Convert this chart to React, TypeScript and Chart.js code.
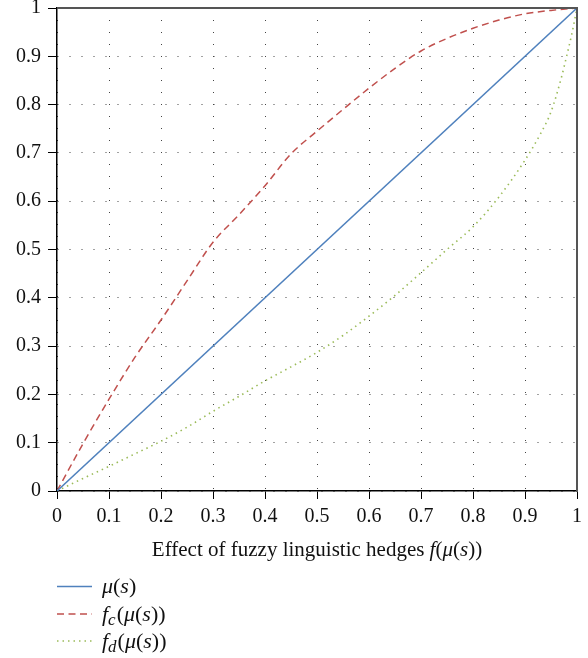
import React, { useEffect, useRef } from "react";
import { Chart, registerables } from "chart.js";

Chart.register(...registerables);

// ---- data ----
const muX = [0, 1];
const muY = [0, 1];

const fcX = [0, 0.05, 0.1, 0.15, 0.2, 0.25, 0.3, 0.35, 0.4, 0.45, 0.5, 0.55, 0.6, 0.65, 0.7, 0.75, 0.8, 0.85, 0.9, 0.95, 1];
const fcY = [0, 0.098, 0.19, 0.277, 0.354, 0.435, 0.515, 0.572, 0.632, 0.698, 0.745, 0.79, 0.834, 0.875, 0.911, 0.937, 0.958, 0.975, 0.988, 0.995, 1];

const fdX = [0, 0.05, 0.1, 0.15, 0.2, 0.25, 0.3, 0.35, 0.4, 0.45, 0.5, 0.55, 0.6, 0.65, 0.7, 0.75, 0.8, 0.85, 0.9, 0.93, 0.95, 0.97, 0.98, 0.99, 1];
const fdY = [0, 0.026, 0.051, 0.077, 0.103, 0.132, 0.165, 0.196, 0.228, 0.257, 0.287, 0.322, 0.362, 0.405, 0.452, 0.5, 0.547, 0.609, 0.685, 0.74, 0.785, 0.856, 0.9, 0.946, 1];

const seriesColors = ["#4f81bd", "#c0504d", "#9bbb59"];
const axisTitle = "Effect of fuzzy linguistic hedges ";

type Run = { t: string; i?: boolean; sub?: boolean };
const legendLabels: Run[][] = [
  [{ t: "μ", i: true }, { t: "(" }, { t: "s", i: true }, { t: ")" }],
  [{ t: "f", i: true }, { t: "c", i: true, sub: true }, { t: "(" }, { t: "μ", i: true }, { t: "(" }, { t: "s", i: true }, { t: "))" }],
  [{ t: "f", i: true }, { t: "d", i: true, sub: true }, { t: "(" }, { t: "μ", i: true }, { t: "(" }, { t: "s", i: true }, { t: "))" }],
];
const titleRuns: Run[] = [
  { t: axisTitle },
  { t: "f", i: true },
  { t: "(" },
  { t: "μ", i: true },
  { t: "(" },
  { t: "s", i: true },
  { t: "))" },
];

const FAMILY = "'Liberation Serif', 'DejaVu Serif', serif";

function runFont(r: Run, size: number) {
  const s = r.sub ? Math.round(size * 0.75) : size;
  return `${r.i ? "italic " : ""}${s}px ${FAMILY}`;
}
function measureRuns(ctx: CanvasRenderingContext2D, runs: Run[], size: number) {
  let w = 0;
  for (const r of runs) {
    ctx.font = runFont(r, size);
    w += ctx.measureText(r.t).width;
  }
  return w;
}
function drawRuns(ctx: CanvasRenderingContext2D, runs: Run[], x: number, y: number, size: number) {
  let cx = x;
  for (const r of runs) {
    ctx.font = runFont(r, size);
    ctx.fillText(r.t, cx, r.sub ? y + size * 0.22 : y);
    cx += ctx.measureText(r.t).width + (r.sub ? 1 : 0);
  }
}

const decorPlugin = {
  id: "decor",
  afterDraw(chart: any) {
    const { ctx, chartArea } = chart;
    const { left, right, top, bottom } = chartArea;
    ctx.save();
    // top and right frame
    ctx.strokeStyle = "#555";
    ctx.lineWidth = 2;
    ctx.beginPath();
    ctx.moveTo(left, top);
    ctx.lineTo(right, top);
    ctx.lineTo(right, bottom + 1);
    ctx.stroke();

    // axis title
    ctx.fillStyle = "#111";
    ctx.textBaseline = "alphabetic";
    ctx.textAlign = "left";
    const tSize = 21;
    const tw = measureRuns(ctx, titleRuns, tSize);
    drawRuns(ctx, titleRuns, (left + right) / 2 - tw / 2, 556, tSize);

    // legend
    const rows = [586.5, 614, 641];
    const dashes = [[], [7, 4.5], [1.5, 4]];
    rows.forEach((y, k) => {
      ctx.save();
      ctx.strokeStyle = seriesColors[k];
      ctx.lineWidth = 1.5;
      ctx.setLineDash(dashes[k]);
      ctx.beginPath();
      ctx.moveTo(57, y);
      ctx.lineTo(92, y);
      ctx.stroke();
      ctx.restore();
      ctx.fillStyle = "#111";
      drawRuns(ctx, legendLabels[k], 102, y + 6.5, 22);
    });
    ctx.restore();
  },
};

function pts(xs: number[], ys: number[]) {
  return xs.map((x, i) => ({ x, y: ys[i] }));
}

export default function App() {
  const ref = useRef<HTMLCanvasElement>(null);
  useEffect(() => {
    if (!ref.current) return;
    const fmt = (v: any) => {
      const n = Number(v);
      if (Math.abs(n) < 1e-9) return "0";
      if (Math.abs(n - 1) < 1e-9) return "1";
      return n.toFixed(1);
    };
    const gridCommon = {
      color: "#444",
      lineWidth: 1,
      tickLength: 8,
      tickColor: "#000",
      tickWidth: 1,
      tickBorderDash: [],
    };
    const chart = new Chart(ref.current, {
      type: "line",
      data: {
        datasets: [
          {
            label: "mu",
            data: pts(muX, muY),
            borderColor: seriesColors[0],
            borderWidth: 1.5,
            pointRadius: 0,
          },
          {
            label: "fc",
            data: pts(fcX, fcY),
            borderColor: seriesColors[1],
            borderWidth: 1.5,
            borderDash: [7, 4.5],
            pointRadius: 0,
            cubicInterpolationMode: "monotone",
          },
          {
            label: "fd",
            data: pts(fdX, fdY),
            borderColor: seriesColors[2],
            borderWidth: 1.6,
            borderDash: [1.5, 4],
            pointRadius: 0,
            cubicInterpolationMode: "monotone",
          },
        ],
      },
      options: {
        animation: false,
        responsive: false,
        devicePixelRatio: 1,
        layout: { padding: { left: 0, top: 8, right: 11, bottom: 0 } },
        plugins: { legend: { display: false }, tooltip: { enabled: false } },
        scales: {
          x: {
            type: "linear",
            min: 0,
            max: 1,
            ticks: {
              stepSize: 0.1,
              autoSkip: false,
              maxRotation: 0,
              padding: 6,
              color: "#111",
              font: { family: FAMILY, size: 20 },
              callback: fmt,
            },
            grid: { ...gridCommon },
            border: { display: true, color: "#000", width: 1.5, dash: [1, 11] },
            afterFit: (s: any) => {
              s.height = 167;
              s.paddingLeft = 0;
              s.paddingRight = 0;
            },
          },
          y: {
            type: "linear",
            min: 0,
            max: 1,
            ticks: {
              stepSize: 0.1,
              autoSkip: false,
              padding: 7,
              color: "#111",
              font: { family: FAMILY, size: 20 },
              callback: fmt,
            },
            grid: { ...gridCommon, tickLength: 9 },
            border: { display: true, color: "#000", width: 1.5, dash: [1, 11] },
            afterFit: (s: any) => {
              s.width = 57;
              s.paddingTop = 0;
              s.paddingBottom = 0;
            },
          },
        },
      },
      plugins: [decorPlugin],
    } as any);
    return () => chart.destroy();
  }, []);
  return (
    <div style={{ position: "absolute", left: 0, top: 0, width: 588, height: 658, background: "#fff" }}>
      <canvas ref={ref} width={588} height={658} style={{ width: 588, height: 658, display: "block" }} />
    </div>
  );
}
